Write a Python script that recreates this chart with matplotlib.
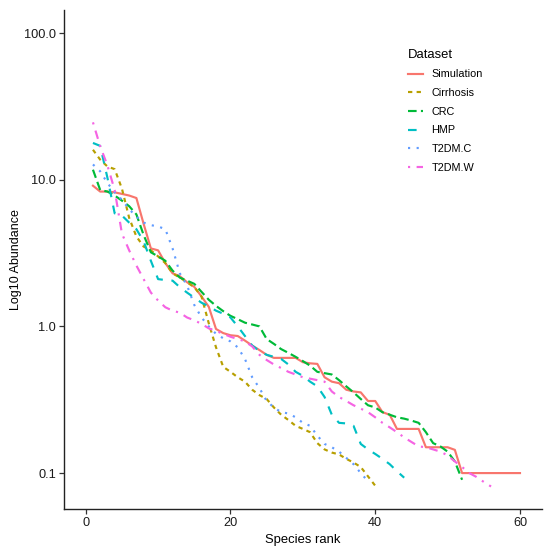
import numpy as np
import matplotlib
matplotlib.use("Agg")
import matplotlib.pyplot as plt
from matplotlib.ticker import NullLocator

plt.rcParams['font.family'] = ['Liberation Sans', 'DejaVu Sans']

datasets = ["Simulation", "Cirrhosis", "CRC", "HMP", "T2DM.C", "T2DM.W"]

simulation = [9.1, 8.3, 8.3, 8.2, 8.0, 7.8, 7.5, 5.0, 3.4, 3.3,
              2.7, 2.3, 2.2, 2.0, 1.86, 1.6, 1.36, 0.96, 0.9, 0.87,
              0.86, 0.8, 0.74, 0.69, 0.64, 0.61, 0.61, 0.61, 0.61, 0.57,
              0.56, 0.555, 0.45, 0.42, 0.41, 0.37, 0.36, 0.355, 0.31, 0.31,
              0.26, 0.25, 0.20, 0.20, 0.20, 0.20, 0.15, 0.15, 0.15, 0.15,
              0.144, 0.10, 0.10, 0.10, 0.10, 0.10, 0.10, 0.10, 0.10, 0.10]
cirrhosis = [16, 13.7, 12.3, 11.8, 8.7, 5.5, 4.1, 3.5, 3.3, 3.0,
             2.7, 2.3, 2.15, 2.0, 1.85, 1.6, 1.05, 0.72, 0.53, 0.49,
             0.45, 0.42, 0.37, 0.34, 0.32, 0.28, 0.25, 0.23, 0.21, 0.20,
             0.19, 0.16, 0.145, 0.138, 0.134, 0.125, 0.118, 0.11, 0.095, 0.082]
crc = [11.7, 8.5, 8.3, 7.8, 7.2, 6.6, 5.8, 4.2, 3.2, 3.0,
       2.8, 2.4, 2.15, 2.05, 1.95, 1.72, 1.52, 1.38, 1.27, 1.18,
       1.12, 1.06, 1.03, 1.0, 0.82, 0.76, 0.70, 0.66, 0.62, 0.58,
       0.54, 0.49, 0.48, 0.47, 0.43, 0.39, 0.355, 0.32, 0.29, 0.28,
       0.26, 0.25, 0.24, 0.235, 0.228, 0.22, 0.19, 0.16, 0.152, 0.14,
       0.12, 0.09]
hmp = [17.8, 17, 10.3, 5.9, 5.7, 5.1, 4.6, 3.8, 2.8, 2.1,
       2.07, 2.05, 1.85, 1.7, 1.57, 1.45, 1.37, 1.28, 1.22, 1.15,
       1.0, 0.86, 0.74, 0.68, 0.64, 0.62, 0.60, 0.55, 0.49, 0.46,
       0.42, 0.39, 0.33, 0.25, 0.22, 0.218, 0.21, 0.158, 0.145, 0.135,
       0.125, 0.115, 0.103, 0.093]
t2dm_c = [12.7, 11.4, 9.5, 8.2, 7.3, 6.3, 5.6, 5.1, 4.9, 4.8,
          4.6, 3.4, 2.3, 1.9, 1.4, 1.15, 1.0, 0.89, 0.83, 0.79,
          0.72, 0.6, 0.45, 0.38, 0.31, 0.28, 0.26, 0.255, 0.24, 0.22,
          0.21, 0.18, 0.158, 0.15, 0.14, 0.127, 0.115, 0.1, 0.088]
t2dm_w = [24.6, 16.9, 12.5, 8.5, 4.3, 3.3, 2.6, 2.1, 1.7, 1.5,
          1.35, 1.28, 1.24, 1.15, 1.1, 1.04, 0.97, 0.93, 0.89, 0.85,
          0.82, 0.79, 0.73, 0.64, 0.59, 0.55, 0.52, 0.49, 0.47, 0.45,
          0.44, 0.43, 0.42, 0.36, 0.33, 0.31, 0.29, 0.275, 0.26, 0.24,
          0.22, 0.205, 0.19, 0.175, 0.163, 0.152, 0.15, 0.145, 0.14, 0.132,
          0.12, 0.11, 0.1, 0.094, 0.087, 0.081]

series = [simulation, cirrhosis, crc, hmp, t2dm_c, t2dm_w]
colors = ["#F8766D", "#B79F00", "#00BA38", "#00BFC4", "#619CFF", "#F564E3"]
dashes = [None, (2, 2), (4, 2), (4, 4), (1, 3), (1, 3, 4, 3)]

y_ticks = [0.1, 1, 10, 100]
y_labels = ["0.1", "1.0", "10.0", "100.0"]
x_ticks = [0, 20, 40, 60]

fig = plt.figure(figsize=(5.5, 5.49), dpi=100)
ax = fig.add_axes([63.5 / 550, 1 - 509 / 549, (541.7 - 63.5) / 550, (509 - 10) / 549])
ax.set_yscale('log')

for name, vals, col, ds in zip(datasets, series, colors, dashes):
    rank = np.arange(1, len(vals) + 1)
    line, = ax.plot(rank, vals, color=col, lw=1.55, label=name)
    if ds is not None:
        line.set_dashes(ds)

ax.set_xlim(-3.07, 63)
ax.set_ylim(0.0569, 143.5)
ax.set_xticks(x_ticks)
ax.set_yticks(y_ticks)
ax.set_yticklabels(y_labels)
ax.yaxis.set_minor_locator(NullLocator())

for s in ['top', 'right']:
    ax.spines[s].set_visible(False)
for s in ['left', 'bottom']:
    ax.spines[s].set_linewidth(1.0)
    ax.spines[s].set_color('#222222')
ax.tick_params(length=3.5, width=0.9, color='#333333', labelsize=9.2, labelcolor='#1a1a1a', pad=2)

ax.set_xlabel("Species rank", fontsize=9.4, labelpad=4)
ax.set_ylabel("Log10 Abundance", fontsize=9.0, labelpad=1.5)

leg = ax.legend(title="Dataset", loc='upper left', bbox_to_anchor=(408 / 550, 1 - 49 / 549),
                bbox_transform=fig.transFigure, frameon=False, fontsize=7.8,
                title_fontsize=9.4, handlelength=1.35, handletextpad=0.8,
                labelspacing=0.8, borderpad=0, borderaxespad=0, alignment='left')
leg._legend_box.sep = 6

fig.savefig("out.png", dpi=100)
